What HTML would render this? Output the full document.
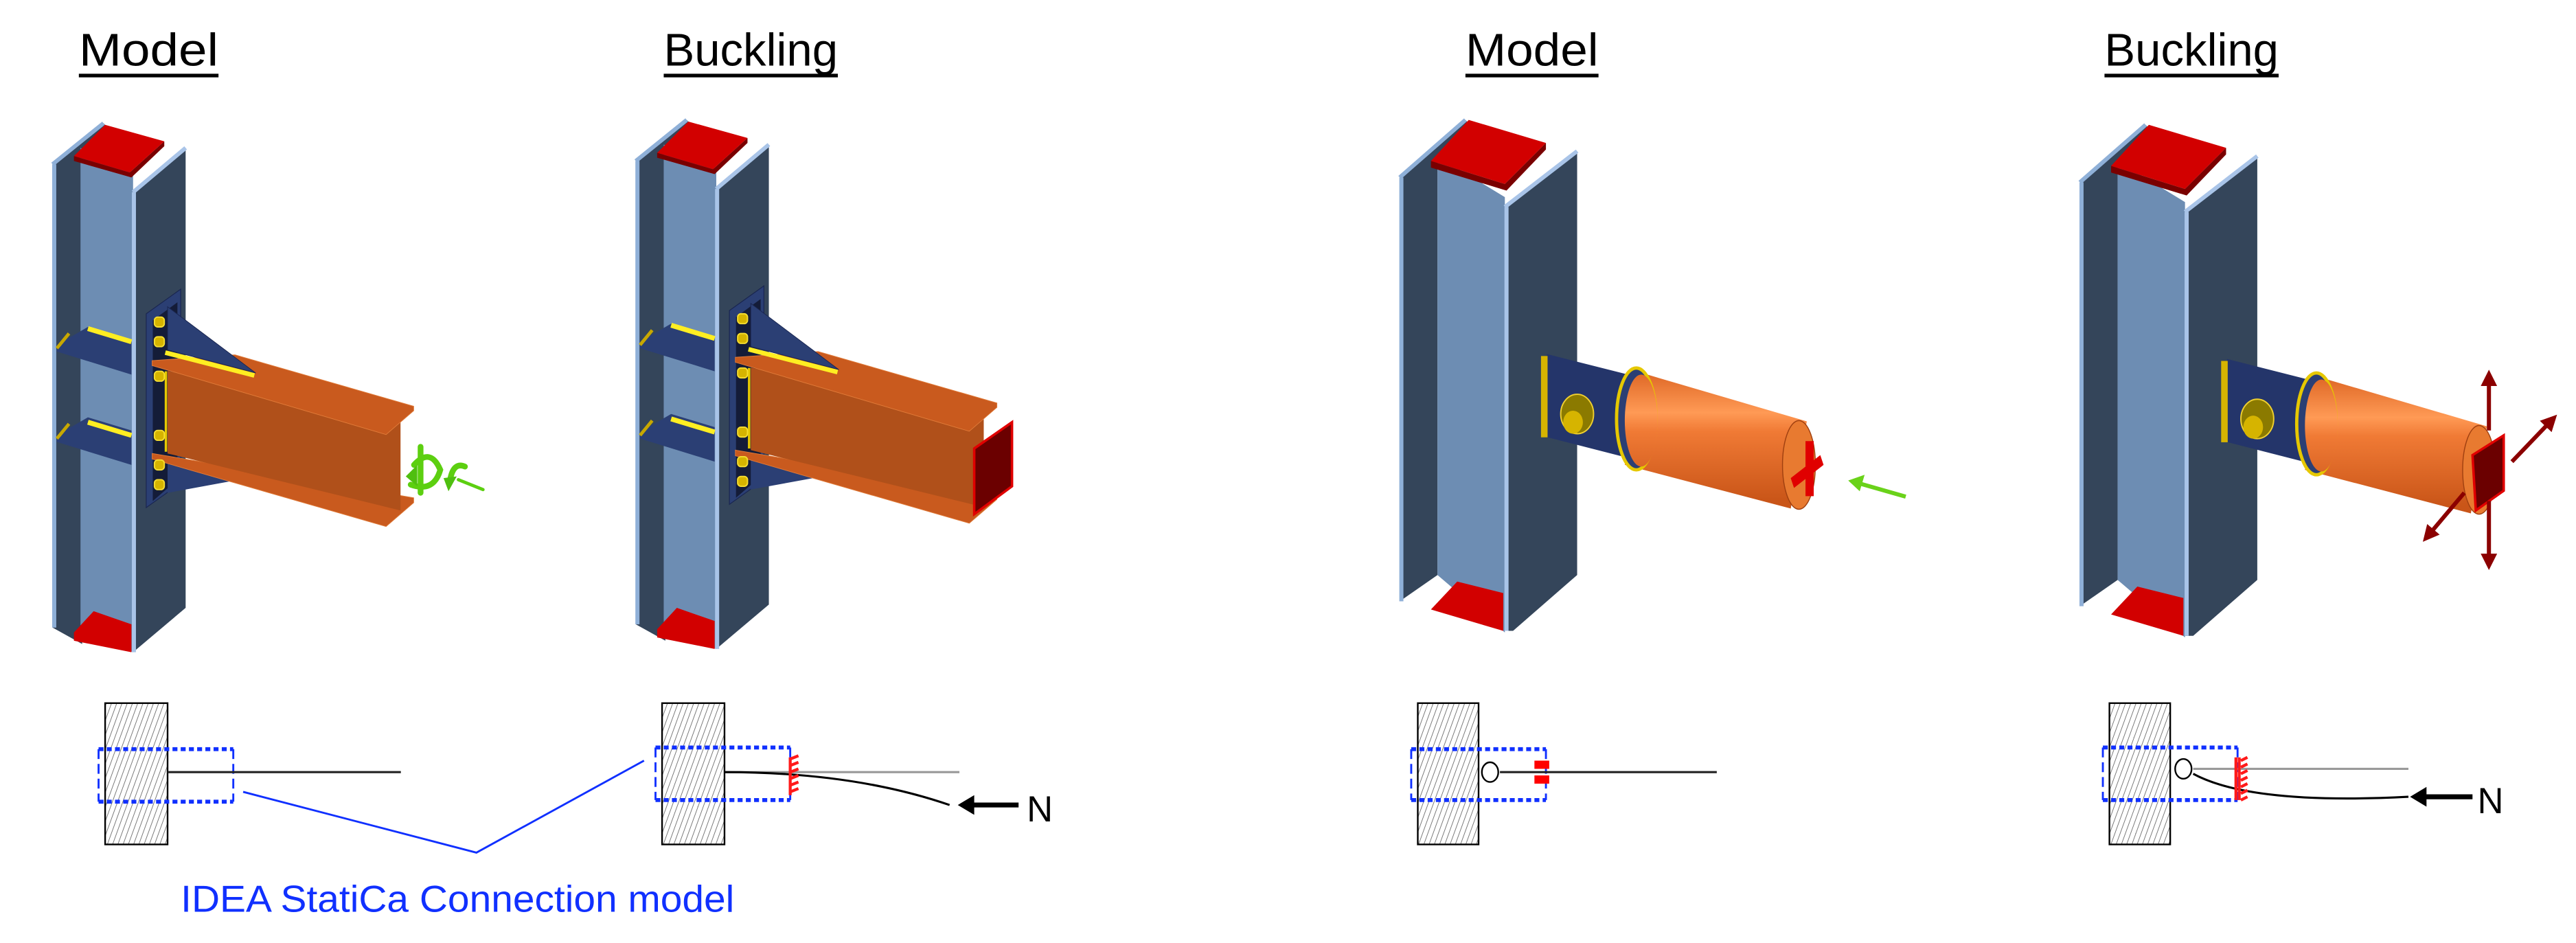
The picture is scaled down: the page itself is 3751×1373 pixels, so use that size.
<!DOCTYPE html>
<html><head><meta charset="utf-8">
<style>
html,body{margin:0;padding:0;background:#fff;}
svg{display:block;}
</style></head>
<body>
<svg width="3751" height="1373" viewBox="0 0 1568 574" preserveAspectRatio="none" xmlns="http://www.w3.org/2000/svg">
<defs>
<pattern id="hat" width="3" height="3" patternUnits="userSpaceOnUse" patternTransform="rotate(20)">
<rect width="3" height="3" fill="#fff"/><line x1="0" y1="0" x2="0" y2="3" stroke="#777" stroke-width="0.8"/>
</pattern>
<linearGradient id="cyl" gradientUnits="userSpaceOnUse" x1="0" y1="228" x2="0" y2="305">
<stop offset="0" stop-color="#e06a28"/><stop offset="0.3" stop-color="#ff9a55"/><stop offset="0.45" stop-color="#f07a35"/><stop offset="1" stop-color="#c95518"/>
</linearGradient>
<marker id="ar" viewBox="0 0 10 10" refX="5" refY="5" markerWidth="4" markerHeight="4" orient="auto"><path d="M0,0 L10,5 L0,10 z" fill="#8b0000"/></marker>
<g id="colA">
 <!-- left flange -->
 <polygon points="32,100 63,75 66,78 50,96 50,392 32,382" fill="#34455a"/>
 <line x1="33" y1="100" x2="33" y2="382" stroke="#8fb0d8" stroke-width="2.5"/>
 <line x1="32" y1="100" x2="63" y2="75" stroke="#8fb0d8" stroke-width="2.5"/>
 <!-- web -->
 <polygon points="49,90 81,105 81,397 49,385" fill="#6d8db3"/>
 <!-- right flange -->
 <polygon points="81,117 113,90 113,370 81,397" fill="#34455a"/>
 <line x1="81.5" y1="117" x2="81.5" y2="397" stroke="#a9c4e8" stroke-width="2.5"/>
 <line x1="81" y1="117" x2="113" y2="90" stroke="#a9c4e8" stroke-width="2.5"/>
 <!-- caps -->
 <polygon points="64,76 100,86 79,105 45,95" fill="#d20000"/>
 <polygon points="79,105 100,86 100,89 80,108 45,98 45,95" fill="#7a0000"/>
 <polygon points="45,385 57,372 80,380 80,397 45,390" fill="#d20000"/>
 <!-- stiffeners -->
 <polygon points="34.6,210 53.5,199 80,207 80,228 34.6,214" fill="#2b3f74"/>
 <line x1="53.5" y1="200" x2="80" y2="208" stroke="#ffee22" stroke-width="3"/>
 <line x1="34.6" y1="212" x2="42" y2="203" stroke="#c8a800" stroke-width="2"/>
 <polygon points="34.6,265 53.5,254 80,262 80,283 34.6,269" fill="#2b3f74"/>
 <line x1="53.5" y1="257" x2="80" y2="265" stroke="#ffee22" stroke-width="3"/>
 <line x1="34.6" y1="267" x2="42" y2="258" stroke="#c8a800" stroke-width="2"/>
 <!-- end plate -->
 <polygon points="89,191 110,176 110,294 89,309" fill="#2b3f74" stroke="#1a2650" stroke-width="0.5"/>
 <polygon points="93,195 108,184 108,292 93,305" fill="#141c38"/>
 <!-- lower gusset -->
 <polygon points="102,281 140,293 102,300" fill="#2b3f74"/>
 <!-- bottom flange -->
 <polygon points="92.6,276 251.8,303 251.8,306 235,320.5 92.6,279.4" fill="#c95a1e" stroke="#e07a38" stroke-width="0.4"/>
 <!-- web -->
 <polygon points="102,225.7 243.8,256.4 243.8,310.7 102,276" fill="#b0501a"/>
 <!-- top flange -->
 <polygon points="92.6,219.5 143,216 251.8,247.3 251.8,250 235,264.5 92.6,222.5" fill="#c95a1e" stroke="#e07a38" stroke-width="0.4"/>
 <!-- gusset -->
 <polygon points="102,186.7 155.6,227 102,213" fill="#2b3f74" stroke="#1a2650" stroke-width="0.4"/>
 <line x1="100.6" y1="214.6" x2="154.8" y2="228.5" stroke="#ffee22" stroke-width="2.8"/>
 <line x1="101" y1="226" x2="101" y2="275" stroke="#e6c800" stroke-width="1.5"/>
 <!-- bolts -->
 <g fill="#d6b400" stroke="#f5dd30" stroke-width="0.8">
  <rect x="94" y="193" width="6" height="6" rx="2"/>
  <rect x="94" y="205" width="6" height="6" rx="2"/>
  <rect x="94" y="226" width="6" height="6" rx="2"/>
  <rect x="94" y="262" width="6" height="6" rx="2"/>
  <rect x="94" y="280" width="6" height="6" rx="2"/>
  <rect x="94" y="292" width="6" height="6" rx="2"/>
 </g>
</g>
<g id="colB">
 <polygon points="852,108 892,73 895,76 875,100 875,350 852,366" fill="#34455a"/>
 <line x1="853" y1="108" x2="853" y2="366" stroke="#8fb0d8" stroke-width="2.5"/>
 <line x1="852" y1="108" x2="892" y2="73" stroke="#8fb0d8" stroke-width="2.5"/>
 <polygon points="875,95 916,120 916,385 875,350" fill="#6d8db3"/>
 <polygon points="916,126 960,92 960,350 921,384 916,384" fill="#34455a"/>
 <line x1="917" y1="126" x2="917" y2="384" stroke="#a9c4e8" stroke-width="2.5"/>
 <line x1="916" y1="126" x2="960" y2="92" stroke="#a9c4e8" stroke-width="2.5"/>
 <polygon points="894,73 941,87 916,112 871,98" fill="#d20000"/>
 <polygon points="916,112 941,87 941,91 917,116 871,102 871,98" fill="#7a0000"/>
 <polygon points="887,354 915,361 915,384 871,371" fill="#d20000"/>
 <!-- end plate -->
 <polygon points="941.6,215.5 993.7,228.7 993.7,279.4 941.6,266.1" fill="#24356a"/>
 <rect x="938" y="216.7" width="4" height="49.5" fill="#d6b400"/>
 <ellipse cx="960" cy="252" rx="10" ry="12" fill="#8b7a00" stroke="#f0d030" stroke-width="0.8"/>
 <ellipse cx="957.5" cy="257" rx="6" ry="7" fill="#d6b400"/>
 <!-- cylinder -->
 <polygon points="1001,227.5 1099.8,256.5 1090,309.5 989,283" fill="url(#cyl)"/>
 <ellipse cx="996" cy="255" rx="12" ry="31" fill="#2b3f74" stroke="#e6c800" stroke-width="2"/>
 <ellipse cx="999" cy="256" rx="10" ry="28" fill="url(#cyl)"/>
 <ellipse cx="1095" cy="283" rx="10" ry="27" fill="#e87a30" stroke="#a04010" stroke-width="0.6"/>
</g>
</defs>

<!-- Titles -->
<g font-family="'Liberation Sans Narrow','Liberation Sans',sans-serif" font-size="28" fill="#000">
<text x="48" y="40" textLength="85" lengthAdjust="spacingAndGlyphs">Model</text>
<text x="404" y="40" textLength="106" lengthAdjust="spacingAndGlyphs">Buckling</text>
<text x="892" y="40" textLength="81" lengthAdjust="spacingAndGlyphs">Model</text>
<text x="1281" y="40" textLength="106" lengthAdjust="spacingAndGlyphs">Buckling</text>
</g>
<g stroke="#000" stroke-width="2.2">
<line x1="48" y1="46" x2="133" y2="46"/>
<line x1="404" y1="46" x2="510" y2="46"/>
<line x1="892" y1="46" x2="973" y2="46"/>
<line x1="1281" y1="46" x2="1387" y2="46"/>
</g>

<!-- 3D models -->
<use href="#colA"/>
<!-- green load arrows -->
<g fill="none" stroke="#5ccf10" stroke-width="3.5" stroke-linecap="round">
 <path d="M252,283 Q262,272 268,286 Q264,300 250,295"/>
 <line x1="256" y1="272" x2="256" y2="300"/>
 <path d="M283,284 Q276,281 274,292"/>
 <line x1="279" y1="292" x2="294" y2="298" stroke-width="2"/>
</g>
<polygon points="247,290 254,283 254,296" fill="#4fbf10"/>
<polygon points="270,291 278,290 273,299" fill="#4fbf10"/>

<g transform="translate(355,-2)">
 <use href="#colA"/>
 <polygon points="238,275 261,259 261,298 238,315" fill="#6b0000" stroke="#e00000" stroke-width="1.5"/>
</g>

<use href="#colB"/>
<g fill="#e00000">
 <rect x="1099" y="268.5" width="5" height="33.5"/>
 <polygon points="1090,291 1108,277 1110,283 1092,297"/>
</g>
<line x1="1160" y1="302.3" x2="1132" y2="294.3" stroke="#6ad21a" stroke-width="2.5"/>
<polygon points="1125,292.5 1135,289 1132,299" fill="#6ad21a"/>

<g transform="translate(414,3)"><use href="#colB"/></g>
<polygon points="1505,277 1524,265 1524,298.7 1507,310.7" fill="#6b0000" stroke="#e00000" stroke-width="1.5"/>
<g stroke="#8b0000" stroke-width="2.5" marker-end="url(#ar)">
 <line x1="1515" y1="262" x2="1515" y2="230"/>
 <line x1="1515" y1="305" x2="1515" y2="342"/>
 <line x1="1529" y1="281" x2="1553" y2="256"/>
 <line x1="1500" y1="300" x2="1478" y2="326"/>
</g>

<!-- ===== Bottom schematics ===== -->
<g stroke="#000" stroke-width="1">
 <rect x="64" y="428" width="38" height="86" fill="url(#hat)"/>
 <rect x="403" y="428" width="38" height="86" fill="url(#hat)"/>
 <rect x="863" y="428" width="37" height="86" fill="url(#hat)"/>
 <rect x="1284" y="428" width="37" height="86" fill="url(#hat)"/>
</g>
<!-- dashed boxes -->
<g fill="none" stroke="#1030ff">
 <g stroke-width="2.4" stroke-dasharray="3,2">
  <line x1="60" y1="456" x2="142" y2="456"/><line x1="60" y1="488" x2="142" y2="488"/>
  <line x1="399" y1="455" x2="481" y2="455"/><line x1="399" y1="487" x2="481" y2="487"/>
  <line x1="859" y1="456" x2="941" y2="456"/><line x1="859" y1="487" x2="941" y2="487"/>
  <line x1="1280" y1="455" x2="1362" y2="455"/><line x1="1280" y1="487" x2="1362" y2="487"/>
 </g>
 <g stroke-width="1.2" stroke-dasharray="6,3">
  <line x1="60" y1="456" x2="60" y2="488"/><line x1="142" y1="456" x2="142" y2="488"/>
  <line x1="399" y1="455" x2="399" y2="487"/><line x1="481" y1="455" x2="481" y2="487"/>
  <line x1="859" y1="456" x2="859" y2="487"/><line x1="941" y1="456" x2="941" y2="487"/>
  <line x1="1280" y1="455" x2="1280" y2="487"/><line x1="1362" y1="455" x2="1362" y2="487"/>
 </g>
 <polyline points="148,482 290,519 392,463" stroke-width="1.2"/>
</g>

<!-- beam lines -->
<line x1="102" y1="470" x2="244" y2="470" stroke="#222" stroke-width="1.3"/>
<line x1="441" y1="470" x2="584" y2="470" stroke="#999" stroke-width="1.3"/>
<path d="M441,470 Q520,470 578,490" fill="none" stroke="#000" stroke-width="1.3"/>
<line x1="913" y1="470" x2="1045" y2="470" stroke="#222" stroke-width="1.3"/>
<line x1="1335" y1="468" x2="1466" y2="468" stroke="#999" stroke-width="1.3"/>
<path d="M1335,471 Q1370,490 1466,485" fill="none" stroke="#000" stroke-width="1.3"/>

<!-- red supports -->
<g stroke="#ff1a1a" stroke-width="1.8" fill="none">
 <line x1="481" y1="461" x2="481" y2="484"/>
 <path d="M481,462 l5,-2 M481,466 l5,-2 M481,470 l5,-2 M481,474 l5,-2 M481,478 l5,-2 M481,482 l5,-2"/>
 <line x1="1361" y1="461" x2="1361" y2="487"/>
 <line x1="1363" y1="461" x2="1363" y2="487"/>
 <path d="M1364,463 l4,-2 M1364,467 l4,-2 M1364,471 l4,-2 M1364,475 l4,-2 M1364,479 l4,-2 M1364,483 l4,-2 M1364,487 l4,-2"/>
</g>
<rect x="934" y="463" width="9" height="5" fill="#ff0000"/>
<rect x="934" y="472" width="9" height="5" fill="#ff0000"/>
<ellipse cx="907" cy="470" rx="5" ry="6" fill="#fff" stroke="#000" stroke-width="1"/>
<ellipse cx="1329" cy="468" rx="5" ry="6" fill="#fff" stroke="#000" stroke-width="1"/>

<!-- N arrows -->
<line x1="620" y1="490" x2="592" y2="490" stroke="#000" stroke-width="3"/>
<polygon points="583,490 593,484 593,496" fill="#000"/>
<line x1="1505" y1="485" x2="1476" y2="485" stroke="#000" stroke-width="3"/>
<polygon points="1467,485 1477,479 1477,491" fill="#000"/>
<g font-family="'Liberation Sans Narrow','Liberation Sans',sans-serif" font-size="22" fill="#000">
<text x="625" y="500">N</text>
<text x="1508" y="495">N</text>
</g>

<text x="110" y="555" font-family="'Liberation Sans Narrow','Liberation Sans',sans-serif" font-size="23" fill="#1030ff" textLength="337" lengthAdjust="spacingAndGlyphs">IDEA StatiCa Connection model</text>
</svg>
</body></html>
